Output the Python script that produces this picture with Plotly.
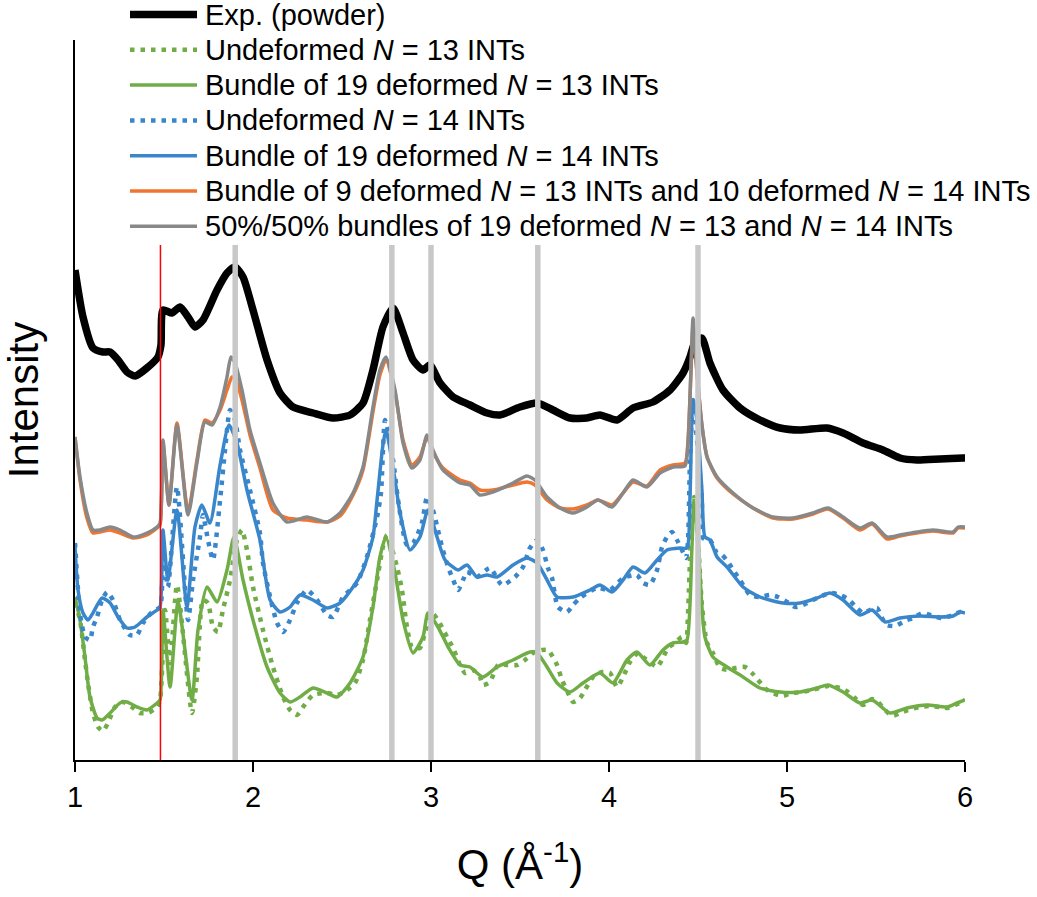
import plotly.graph_objects as go

# ---------------- data (Q in 1/Å, intensity in arbitrary offset units) ----------------
q_exp = [1.000, 1.045, 1.101, 1.157, 1.197, 1.242, 1.292, 1.337, 1.404, 1.466, 1.483, 1.494, 1.545, 1.590,
         1.635, 1.674, 1.719, 1.798, 1.854, 1.899, 1.944, 2.000, 2.079, 2.152, 2.225, 2.337, 2.449, 2.545,
         2.618, 2.674, 2.730, 2.787, 2.843, 2.899, 2.955, 2.994, 3.051, 3.124, 3.219, 3.315, 3.388, 3.500,
         3.596, 3.685, 3.781, 3.876, 3.949, 4.045, 4.135, 4.247, 4.343, 4.416, 4.455, 4.472, 4.489, 4.522,
         4.567, 4.640, 4.736, 4.848, 4.961, 5.073, 5.225, 5.315, 5.427, 5.539, 5.635, 5.730, 5.860, 5.989, 6.000]
i_exp = [4.90, 4.43, 4.12, 4.08, 4.08, 4.00, 3.88, 3.84, 3.92, 4.03, 4.15, 4.50, 4.47, 4.53,
         4.43, 4.33, 4.40, 4.70, 4.87, 4.93, 4.83, 4.50, 4.00, 3.67, 3.53, 3.47, 3.42, 3.45,
         3.57, 3.90, 4.33, 4.52, 4.27, 4.00, 3.90, 3.95, 3.77, 3.63, 3.55, 3.47, 3.45, 3.53,
         3.57, 3.50, 3.42, 3.42, 3.45, 3.40, 3.52, 3.58, 3.70, 3.87, 4.03, 4.13, 4.20, 4.22,
         3.97, 3.70, 3.52, 3.40, 3.32, 3.30, 3.32, 3.27, 3.17, 3.10, 3.02, 3.00, 3.01, 3.02, 3.02]

q_und13 = [1.000, 1.028, 1.056, 1.073, 1.101, 1.129, 1.157, 1.185, 1.225, 1.270, 1.320, 1.365, 1.410, 1.461,
           1.478, 1.506, 1.534, 1.573, 1.657, 1.685, 1.719, 1.747, 1.775, 1.803, 1.831, 1.871, 1.910, 1.938,
           1.966, 2.000, 2.056, 2.112, 2.169, 2.208, 2.247, 2.281, 2.337, 2.416, 2.472, 2.528, 2.573, 2.618,
           2.657, 2.697, 2.730, 2.753, 2.809, 2.837, 2.865, 2.893, 2.938, 2.966, 3.006, 3.039, 3.090, 3.124,
           3.163, 3.191, 3.236, 3.275, 3.292, 3.331, 3.376, 3.427, 3.483, 3.528, 3.573, 3.624, 3.657, 3.708,
           3.736, 3.770, 3.798, 3.837, 3.865, 3.910, 3.961, 4.006, 4.045, 4.079, 4.118, 4.163, 4.191, 4.230,
           4.270, 4.303, 4.331, 4.371, 4.410, 4.433, 4.444, 4.466, 4.478, 4.500, 4.522, 4.551, 4.584, 4.624,
           4.669, 4.708, 4.764, 4.803, 4.837, 4.888, 4.972, 5.028, 5.084, 5.140, 5.230, 5.298, 5.343, 5.382,
           5.427, 5.478, 5.511, 5.551, 5.590, 5.635, 5.680, 5.747, 5.803, 5.860, 5.904, 5.944, 6.000]
i_und13 = [1.57, 1.40, 1.00, 0.77, 0.47, 0.33, 0.29, 0.37, 0.53, 0.58, 0.53, 0.47, 0.47, 0.53,
           0.60, 1.50, 0.97, 1.75, 0.47, 0.83, 1.60, 1.57, 1.33, 1.28, 1.50, 1.80, 2.20, 2.30,
           2.10, 1.73, 1.30, 0.93, 0.63, 0.50, 0.45, 0.53, 0.65, 0.67, 0.65, 0.70, 0.77, 1.00,
           1.40, 1.80, 2.13, 2.25, 1.93, 1.70, 1.33, 1.13, 1.12, 1.27, 1.47, 1.40, 1.23, 1.12,
           0.95, 0.87, 0.90, 0.83, 0.75, 0.78, 0.95, 0.95, 0.95, 1.00, 1.07, 1.10, 1.10, 0.95,
           0.80, 0.67, 0.58, 0.62, 0.70, 0.83, 0.88, 0.87, 0.73, 0.83, 0.98, 1.07, 1.03, 0.98,
           0.93, 1.02, 1.12, 1.17, 1.23, 1.17, 1.47, 2.47, 2.63, 2.20, 1.55, 1.17, 1.07, 0.92,
           0.90, 0.92, 0.93, 0.87, 0.80, 0.70, 0.64, 0.67, 0.68, 0.70, 0.74, 0.72, 0.68, 0.62,
           0.55, 0.61, 0.58, 0.50, 0.44, 0.47, 0.50, 0.53, 0.54, 0.53, 0.52, 0.55, 0.60]

q_def13 = [1.000, 1.028, 1.056, 1.084, 1.124, 1.152, 1.197, 1.253, 1.292, 1.348, 1.404, 1.461, 1.478, 1.494,
           1.534, 1.579, 1.657, 1.691, 1.742, 1.798, 1.854, 1.893, 1.944, 2.000, 2.079, 2.152, 2.208, 2.264,
           2.337, 2.416, 2.472, 2.545, 2.618, 2.674, 2.713, 2.747, 2.798, 2.843, 2.899, 2.955, 2.983, 3.039,
           3.096, 3.163, 3.219, 3.292, 3.371, 3.461, 3.556, 3.596, 3.652, 3.708, 3.781, 3.854, 3.949, 4.022,
           4.101, 4.157, 4.230, 4.303, 4.360, 4.416, 4.438, 4.466, 4.478, 4.500, 4.522, 4.539, 4.584, 4.663,
           4.753, 4.848, 4.961, 5.073, 5.169, 5.230, 5.315, 5.410, 5.478, 5.579, 5.674, 5.787, 5.899, 5.955, 6.000]
i_def13 = [1.63, 1.40, 1.03, 0.63, 0.42, 0.40, 0.47, 0.57, 0.58, 0.53, 0.50, 0.57, 0.60, 1.50,
           0.73, 1.58, 0.60, 1.30, 1.73, 1.58, 1.90, 2.23, 1.80, 1.40, 0.93, 0.67, 0.58, 0.63,
           0.72, 0.67, 0.63, 0.77, 1.03, 1.53, 2.03, 2.23, 1.87, 1.40, 1.07, 1.23, 1.47, 1.33,
           1.13, 0.95, 0.93, 0.83, 0.93, 1.00, 1.08, 1.07, 0.93, 0.77, 0.68, 0.77, 0.87, 0.77,
           1.00, 1.08, 0.95, 1.10, 1.17, 1.18, 1.20, 2.13, 2.60, 2.20, 1.53, 1.23, 1.03, 0.93,
           0.83, 0.72, 0.68, 0.68, 0.72, 0.75, 0.68, 0.57, 0.60, 0.47, 0.52, 0.55, 0.53, 0.57, 0.60]

q_und14 = [1.000, 1.028, 1.056, 1.084, 1.101, 1.124, 1.152, 1.180, 1.213, 1.253, 1.309, 1.348, 1.382, 1.433,
           1.478, 1.494, 1.522, 1.573, 1.635, 1.663, 1.702, 1.719, 1.747, 1.775, 1.815, 1.843, 1.871, 1.899,
           1.927, 1.983, 2.039, 2.056, 2.096, 2.135, 2.169, 2.208, 2.247, 2.303, 2.360, 2.416, 2.449, 2.506,
           2.584, 2.640, 2.697, 2.719, 2.742, 2.787, 2.815, 2.865, 2.899, 2.949, 2.978, 3.011, 3.039, 3.062,
           3.096, 3.118, 3.152, 3.180, 3.202, 3.258, 3.331, 3.399, 3.472, 3.517, 3.556, 3.596, 3.629, 3.657,
           3.680, 3.713, 3.764, 3.798, 3.837, 3.933, 4.006, 4.079, 4.157, 4.191, 4.230, 4.270, 4.298, 4.326,
           4.354, 4.382, 4.410, 4.433, 4.444, 4.455, 4.472, 4.494, 4.522, 4.528, 4.567, 4.607, 4.635, 4.669,
           4.697, 4.736, 4.792, 4.848, 4.904, 4.949, 5.000, 5.045, 5.090, 5.146, 5.242, 5.298, 5.343, 5.393,
           5.427, 5.466, 5.506, 5.534, 5.562, 5.607, 5.663, 5.708, 5.764, 5.820, 5.871, 5.933, 5.972, 6.000]
i_und14 = [2.17, 1.47, 1.23, 1.20, 1.33, 1.43, 1.60, 1.68, 1.60, 1.40, 1.25, 1.25, 1.37, 1.48,
           1.53, 2.13, 1.73, 2.73, 1.40, 1.80, 2.23, 2.45, 2.20, 2.00, 2.60, 3.10, 3.50, 3.40,
           3.10, 2.70, 2.27, 1.97, 1.63, 1.37, 1.28, 1.40, 1.57, 1.70, 1.60, 1.45, 1.43, 1.63,
           1.77, 2.03, 2.43, 2.67, 3.40, 3.00, 2.60, 2.15, 2.17, 2.37, 2.63, 2.50, 2.30, 2.13,
           1.93, 1.83, 1.70, 1.80, 1.88, 1.83, 1.92, 1.75, 1.83, 1.93, 2.12, 2.20, 2.10, 1.92,
           1.82, 1.53, 1.48, 1.55, 1.62, 1.72, 1.70, 1.82, 1.85, 1.77, 1.75, 1.90, 2.13, 2.23,
           2.28, 2.20, 2.10, 2.02, 2.20, 3.00, 3.60, 3.20, 2.60, 2.22, 2.20, 2.07, 2.05, 1.98,
           1.90, 1.80, 1.65, 1.63, 1.65, 1.63, 1.58, 1.53, 1.55, 1.60, 1.67, 1.65, 1.61, 1.52,
           1.47, 1.50, 1.52, 1.42, 1.35, 1.34, 1.39, 1.42, 1.47, 1.44, 1.42, 1.45, 1.48, 1.47]

q_def14 = [1.000, 1.017, 1.045, 1.073, 1.101, 1.152, 1.197, 1.242, 1.292, 1.337, 1.404, 1.461, 1.478, 1.494,
           1.522, 1.573, 1.629, 1.674, 1.713, 1.758, 1.815, 1.865, 1.910, 1.966, 2.039, 2.096, 2.152, 2.208,
           2.264, 2.337, 2.416, 2.489, 2.562, 2.618, 2.674, 2.697, 2.730, 2.747, 2.798, 2.826, 2.882, 2.938,
           2.983, 3.034, 3.079, 3.152, 3.202, 3.258, 3.315, 3.371, 3.461, 3.539, 3.596, 3.652, 3.708, 3.798,
           3.893, 3.949, 4.017, 4.079, 4.135, 4.202, 4.270, 4.326, 4.399, 4.438, 4.455, 4.472, 4.494, 4.522,
           4.539, 4.567, 4.607, 4.663, 4.753, 4.848, 4.978, 5.073, 5.169, 5.242, 5.315, 5.410, 5.478, 5.551,
           5.635, 5.747, 5.860, 5.933, 5.972, 6.000]
i_def14 = [2.13, 1.70, 1.47, 1.40, 1.47, 1.62, 1.57, 1.43, 1.32, 1.33, 1.43, 1.50, 1.53, 2.30,
           1.80, 2.50, 1.53, 2.33, 2.55, 2.37, 2.95, 3.35, 3.17, 2.70, 2.20, 1.60, 1.48, 1.53,
           1.65, 1.60, 1.52, 1.57, 1.73, 1.90, 2.23, 2.60, 3.15, 3.30, 2.80, 2.47, 2.10, 2.23,
           2.50, 2.23, 2.00, 1.90, 1.95, 1.83, 1.85, 1.83, 1.95, 2.02, 1.97, 1.80, 1.63, 1.63,
           1.70, 1.75, 1.68, 1.80, 1.93, 1.87, 2.00, 2.10, 2.12, 2.12, 2.63, 3.60, 3.40, 2.70,
           2.23, 2.20, 2.03, 1.93, 1.73, 1.63, 1.57, 1.57, 1.62, 1.67, 1.60, 1.45, 1.50, 1.38,
           1.42, 1.44, 1.43, 1.44, 1.48, 1.47]

q_mix = [1.000, 1.028, 1.067, 1.101, 1.140, 1.197, 1.253, 1.326, 1.404, 1.461, 1.478, 1.494, 1.528, 1.573,
         1.635, 1.685, 1.730, 1.770, 1.815, 1.854, 1.882, 1.904, 1.938, 1.983, 2.039, 2.112, 2.191, 2.303,
         2.416, 2.489, 2.562, 2.618, 2.674, 2.713, 2.747, 2.798, 2.843, 2.893, 2.938, 2.978, 3.011, 3.067,
         3.163, 3.219, 3.275, 3.348, 3.461, 3.539, 3.584, 3.652, 3.725, 3.798, 3.876, 3.938, 4.017, 4.079,
         4.135, 4.213, 4.287, 4.360, 4.427, 4.444, 4.461, 4.472, 4.489, 4.522, 4.551, 4.607, 4.697, 4.809,
         4.921, 5.034, 5.146, 5.230, 5.315, 5.410, 5.478, 5.562, 5.635, 5.730, 5.820, 5.933, 5.961, 6.000]
i_mix = [3.23, 2.80, 2.42, 2.27, 2.28, 2.30, 2.27, 2.22, 2.25, 2.32, 2.35, 3.18, 2.55, 3.37,
         2.48, 3.00, 3.40, 3.37, 3.50, 3.70, 3.83, 3.80, 3.60, 3.25, 2.92, 2.50, 2.42, 2.40,
         2.38, 2.44, 2.65, 2.90, 3.48, 3.85, 4.00, 3.67, 3.20, 2.95, 3.03, 3.23, 3.08, 2.92,
         2.80, 2.77, 2.70, 2.70, 2.75, 2.78, 2.75, 2.60, 2.52, 2.51, 2.55, 2.60, 2.55, 2.67,
         2.78, 2.74, 2.90, 2.95, 2.97, 3.20, 3.90, 4.35, 3.98, 3.35, 3.03, 2.82, 2.66, 2.52,
         2.42, 2.41, 2.46, 2.51, 2.42, 2.30, 2.36, 2.21, 2.24, 2.27, 2.29, 2.27, 2.32, 2.32]

q_5050 = [1.000, 1.028, 1.067, 1.101, 1.140, 1.197, 1.253, 1.326, 1.404, 1.461, 1.478, 1.494, 1.528, 1.573,
          1.635, 1.685, 1.730, 1.770, 1.815, 1.854, 1.876, 1.899, 1.938, 1.983, 2.039, 2.112, 2.191, 2.303,
          2.416, 2.489, 2.562, 2.618, 2.674, 2.713, 2.747, 2.798, 2.843, 2.893, 2.938, 2.978, 3.011, 3.067,
          3.163, 3.219, 3.275, 3.348, 3.461, 3.539, 3.584, 3.652, 3.725, 3.798, 3.876, 3.938, 4.017, 4.079,
          4.135, 4.213, 4.287, 4.360, 4.427, 4.444, 4.461, 4.472, 4.489, 4.522, 4.551, 4.607, 4.697, 4.809,
          4.921, 5.034, 5.146, 5.230, 5.315, 5.410, 5.478, 5.562, 5.635, 5.730, 5.820, 5.933, 5.961, 6.000]
i_5050 = [3.23, 2.83, 2.47, 2.30, 2.30, 2.33, 2.30, 2.23, 2.27, 2.33, 2.37, 3.20, 2.55, 3.35,
          2.45, 2.97, 3.38, 3.35, 3.53, 3.83, 4.03, 3.97, 3.70, 3.30, 2.97, 2.57, 2.38, 2.43,
          2.38, 2.47, 2.67, 2.93, 3.53, 3.90, 4.03, 3.70, 3.17, 2.92, 3.00, 3.25, 3.10, 2.90,
          2.77, 2.75, 2.65, 2.68, 2.77, 2.84, 2.80, 2.63, 2.52, 2.47, 2.53, 2.60, 2.53, 2.67,
          2.80, 2.73, 2.87, 2.93, 2.94, 3.17, 3.93, 4.42, 4.00, 3.35, 3.03, 2.83, 2.67, 2.52,
          2.43, 2.42, 2.47, 2.52, 2.43, 2.32, 2.37, 2.23, 2.25, 2.28, 2.30, 2.28, 2.33, 2.33]

ref_q = [1.9, 2.78, 3.0, 3.6, 4.5]      # grey reference lines
red_q = 1.48                             # red reference line
ref_top = 5.15

labels = ["Exp. (powder)",
          "Undeformed <i>N</i> = 13 INTs",
          "Bundle of 19 deformed <i>N</i> = 13 INTs",
          "Undeformed <i>N</i> = 14 INTs",
          "Bundle of 19 deformed <i>N</i> = 14 INTs",
          "Bundle of 9 deformed <i>N</i> = 13 INTs and 10 deformed <i>N</i> = 14 INTs",
          "50%/50% bundles of 19 deformed <i>N</i> = 13 and <i>N</i> = 14 INTs"]

# ---------------- styling ----------------
FONT = "Liberation Sans, Arial, sans-serif"
BLACK, GREEN, BLUE, ORANGE, GREY = "#000000", "#70ad47", "#3a86cb", "#f07530", "#888888"
DOT = "4.5px,6px"

series = [
    (q_exp, i_exp, BLACK, 7.5, "solid"),
    (q_und13, i_und13, GREEN, 4.5, DOT),
    (q_def13, i_def13, GREEN, 3.5, "solid"),
    (q_und14, i_und14, BLUE, 4.5, DOT),
    (q_def14, i_def14, BLUE, 3.5, "solid"),
    (q_mix, i_mix, ORANGE, 3.5, "solid"),
    (q_5050, i_5050, GREY, 3.5, "solid"),
]

fig = go.Figure()
for (q, inten, col, w, dash), name in zip(series, labels):
    fig.add_trace(go.Scatter(
        x=q, y=inten, mode="lines", name=name, showlegend=False,
        line=dict(color=col, width=w, dash=dash, shape="spline", smoothing=0.6),
        hoverinfo="x+y+name"))

# reference lines (on top of the curves)
for qv in ref_q:
    fig.add_shape(type="line", xref="x", yref="y", x0=qv, x1=qv, y0=0, y1=ref_top,
                  line=dict(color="#c8c8c8", width=5.5), layer="above")
fig.add_shape(type="line", xref="x", yref="y", x0=red_q, x1=red_q, y0=0, y1=ref_top,
              line=dict(color="#ff0000", width=1.5), layer="above")

W, H = 1037, 897
L, R, T, B = 75, 72, 40, 137
pw, ph = W - L - R, H - T - B

# legend (line samples + text, placed above the curves like the original)
row0, step = 14.5, 35.3
for k, ((q, inten, col, w, dash), name) in enumerate(zip(series, labels)):
    py = row0 + k * step
    yp = (H - B - py) / ph
    fig.add_shape(type="line", xref="paper", yref="paper",
                  x0=(130 - L) / pw, x1=(197 - L) / pw, y0=yp, y1=yp,
                  line=dict(color=col, width=w, dash=dash), layer="above")
    fig.add_annotation(xref="paper", yref="paper", x=(203 - L) / pw, y=yp,
                       xanchor="left", yanchor="middle", text=name, showarrow=False,
                       font=dict(family=FONT, size=29, color="black"))

fig.update_layout(
    width=W, height=H,
    margin=dict(l=L, r=R, t=T, b=B, autoexpand=False),
    paper_bgcolor="white", plot_bgcolor="white",
    font=dict(family=FONT, color="black"),
    showlegend=False,
)
fig.update_xaxes(
    range=[1, 6], tickvals=[1, 2, 3, 4, 5, 6], ticks="outside", ticklen=10, tickwidth=2,
    tickcolor="black", showline=True, linewidth=2, linecolor="black", showgrid=False,
    zeroline=False, tickfont=dict(family=FONT, size=29),
    title=dict(text="Q (Å<sup>-1</sup>)", font=dict(family=FONT, size=42), standoff=38),
)
fig.update_yaxes(
    range=[0, 7.2], showticklabels=False, ticks="", showline=True, linewidth=2,
    linecolor="black", showgrid=False, zeroline=False,
    title=dict(text="Intensity", font=dict(family=FONT, size=42), standoff=22),
)

# remove the page's default body margin so the figure sits at the window origin
fig.write_html("out.html", config={"displayModeBar": False},
               post_script="document.body.style.margin='0px';document.body.style.overflow='hidden';")
